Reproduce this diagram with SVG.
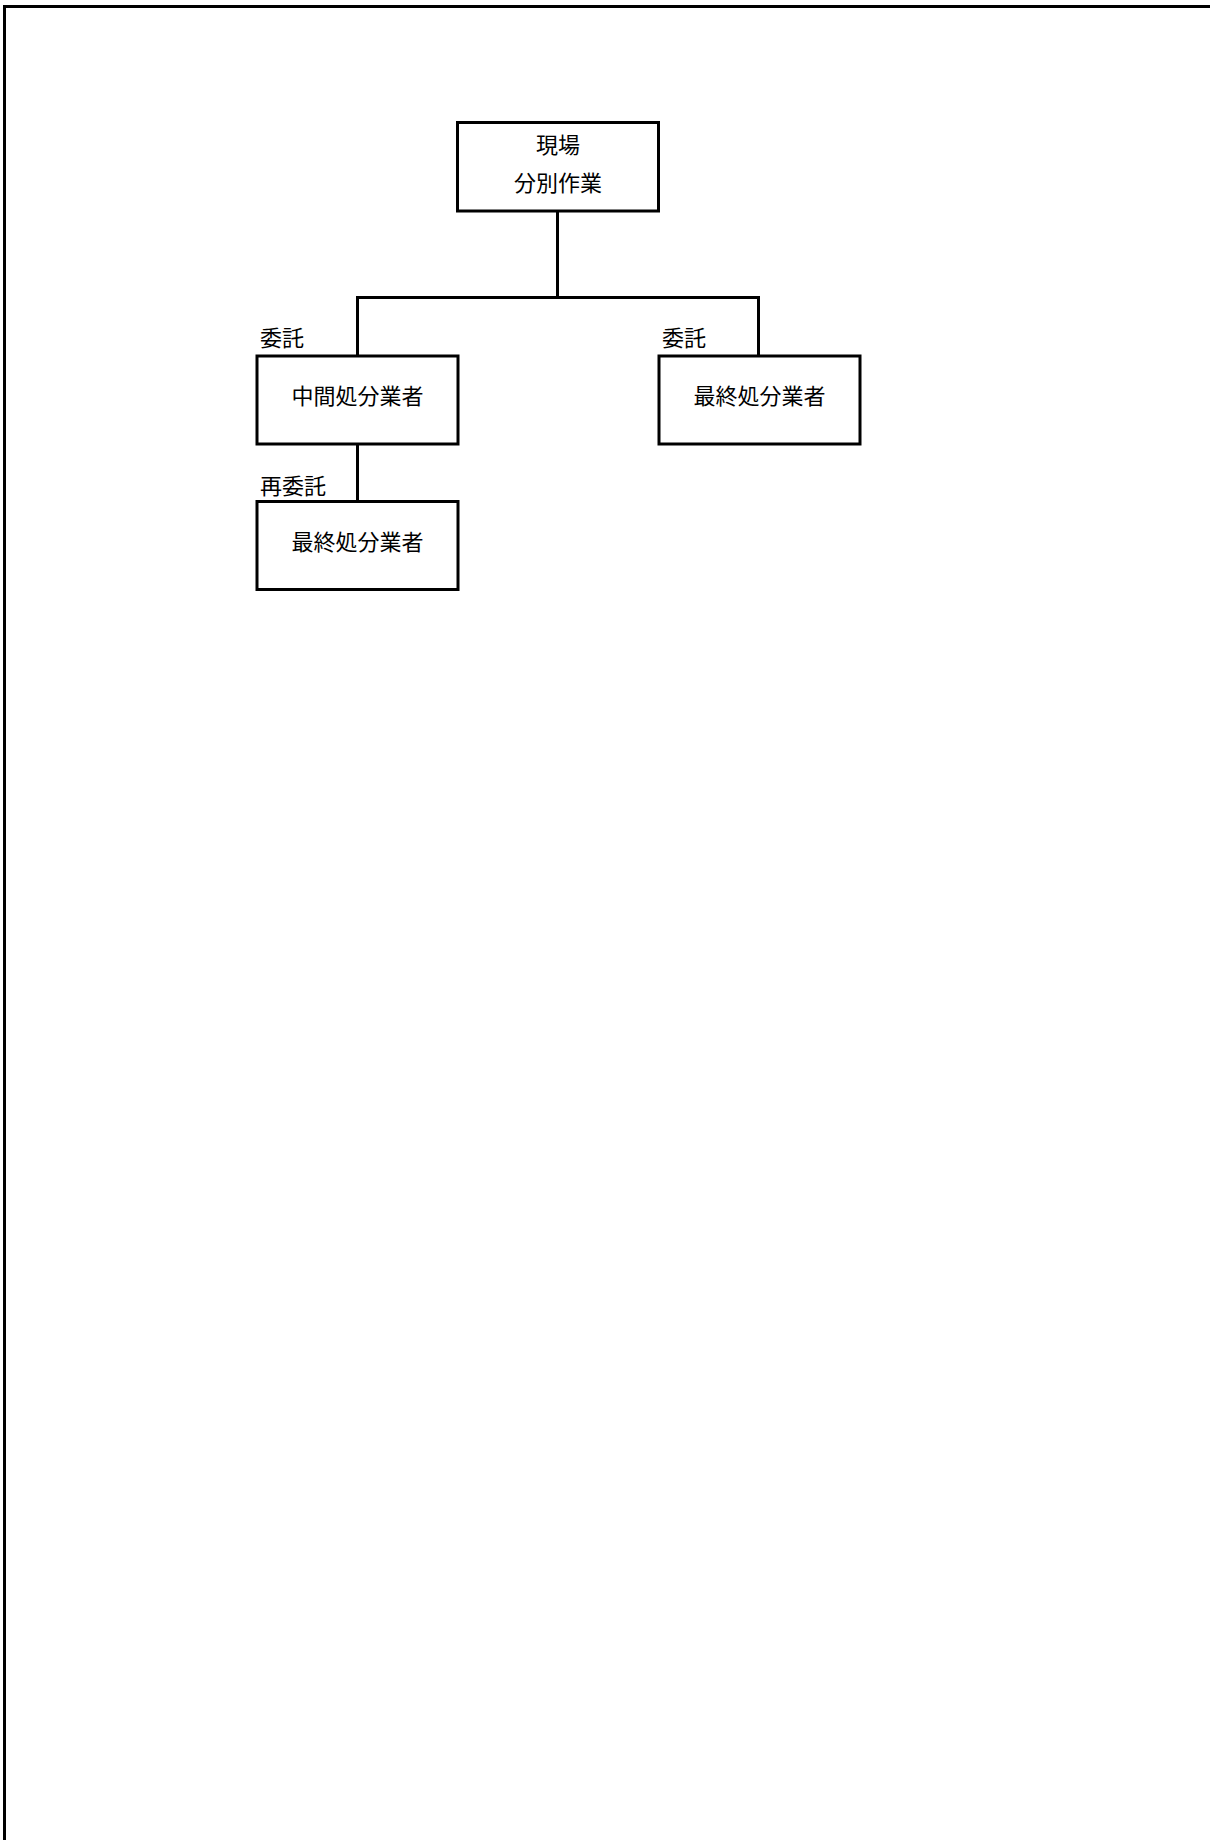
<svg xmlns="http://www.w3.org/2000/svg" width="1210" height="1840" viewBox="0 0 1210 1840">
<style>
.box{fill:#fff;stroke:#000;stroke-width:3}
.ln{fill:none;stroke:#000;stroke-width:3}
text{font-family:"Noto Sans CJK JP","Noto Sans CJK SC",sans-serif;font-size:22px;fill:#000;dominant-baseline:central}
.c{text-anchor:middle}
</style>
<rect width="1210" height="1840" fill="#fff"/>
<polyline class="ln" points="4.5,1842 4.5,6.5 1212,6.5"/>
<g id="connectors">
<polyline class="ln" points="557.5,211 557.5,297.5"/>
<polyline class="ln" points="357.5,356 357.5,297.5 758.5,297.5 758.5,356"/>
<polyline class="ln" points="357.5,444 357.5,501.5"/>
<text x="260" y="336">委託</text>
<text x="662" y="336">委託</text>
<text x="260" y="484">再委託</text>
</g>
<g id="n_genba">
<rect class="box" x="457.5" y="122.5" width="201" height="88.5"/>
<text class="c" x="558" y="143">現場</text>
<text class="c" x="558" y="181">分別作業</text>
</g>
<g id="n_chukan">
<rect class="box" x="257" y="356" width="201" height="88"/>
<text class="c" x="357.5" y="394">中間処分業者</text>
</g>
<g id="n_saishu1">
<rect class="box" x="659" y="356" width="201" height="88"/>
<text class="c" x="759.5" y="394">最終処分業者</text>
</g>
<g id="n_saishu2">
<rect class="box" x="257" y="501.5" width="201" height="88"/>
<text class="c" x="357.5" y="540">最終処分業者</text>
</g>
</svg>
